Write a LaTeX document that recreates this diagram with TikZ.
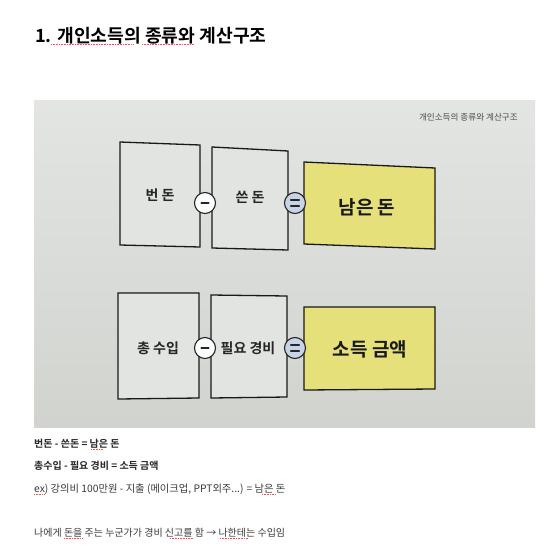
\documentclass[tikz,border=0pt]{standalone}
\usepackage{fontspec}
\setmainfont{Noto Sans CJK KR}
\newfontfamily\kr{Noto Sans CJK KR}
\newfontfamily\krb{Noto Sans CJK KR Bold}
\usetikzlibrary{calc}
\definecolor{photobg}{HTML}{E2E5E2}
\definecolor{photobgd}{HTML}{D0D3CE}
\definecolor{boxfill}{HTML}{E1E4E1}
\definecolor{yel}{HTML}{E5E07A}
\definecolor{eqblue}{HTML}{C6D4E6}
\definecolor{bodygray}{HTML}{3A3A3A}
\tikzset{
  box/.style={draw=black!90, line width=1.3pt, line join=miter},
  boxlbl/.style={font=\krb\fontsize{14}{14}\selectfont, text=black!85, inner sep=0pt},
  reslbl/.style={font=\krb\fontsize{19}{19}\selectfont, text=black!90, inner sep=0pt},
  opcirc/.style={circle, draw=black!85, line width=1.1pt, minimum size=21pt, inner sep=0pt},
  opbar/.style={line width=2.4pt, line cap=round, black!85},
  bodyline/.style={anchor=base west, inner sep=0pt, font=\kr\fontsize{10}{10}\selectfont, text=bodygray},
  spell/.style={red!70, line width=0.6pt, dash pattern=on 0.6pt off 1pt},
}
\begin{document}
\begin{tikzpicture}[x=1pt,y=-1pt]
\useasboundingbox (0,0) rectangle (560,560);
\fill[white] (0,0) rectangle (560,560);
% title
\node[anchor=base west, inner sep=0pt, font=\krb\fontsize{18.2}{18.2}\selectfont] (title) at (35,42) {1. 개인소득의 종류와 계산구조};
\draw[spell] (51,44.5) -- (134,44.5);
\draw[spell] (142,44.5) -- (194,44.5);
% photo
\shade[top color=photobg, bottom color=photobgd] (34,100) rectangle (535,427);
\node[anchor=base east, inner sep=0pt, font=\kr\fontsize{8.6}{8.6}\selectfont, text=black!70] (phototitle) at (518,120) {개인소득의 종류와 계산구조};
% top row boxes (slightly skewed as in the photo)
\draw[box, fill=boxfill] (120,142) -- (200,145) -- (200,247) -- (120,245) -- cycle;
\draw[box, fill=boxfill] (212,147) -- (288,151) -- (288,250) -- (212,248) -- cycle;
\draw[box, fill=yel] (304,162) -- (435,168) -- (435,249) -- (304,244) -- cycle;
\node[boxlbl] (bn) at (160,195) {번 돈};
\node[boxlbl] (sd) at (250,197) {쓴 돈};
\node[reslbl] (nd) at (367,207) {남은 돈};
\node[opcirc, fill=white!95!eqblue] (m1) at (205,203) {};
\draw[opbar] ($(m1)+(-3.5,0)$) -- ($(m1)+(3.5,0)$);
\node[opcirc, fill=eqblue] (e1) at (295,203) {};
\draw[opbar, line width=2.2pt] ($(e1)+(-4,-2.8)$) -- ($(e1)+(4,-2.8)$);
\draw[opbar, line width=2.2pt] ($(e1)+(-4,2.8)$) -- ($(e1)+(4,2.8)$);
% bottom row boxes
\draw[box, fill=boxfill] (118,293) -- (199,293) -- (199,398) -- (118,399) -- cycle;
\draw[box, fill=boxfill] (211,295) -- (287,296) -- (287,397) -- (211,398) -- cycle;
\draw[box, fill=yel] (304,307) -- (435,307) -- (435,389) -- (304,390) -- cycle;
\node[boxlbl] (ts) at (158,348) {총 수입};
\node[boxlbl] (pg) at (248,348) {필요 경비};
\node[reslbl] (sg) at (370,349) {소득 금액};
\node[opcirc, fill=white!95!eqblue] (m2) at (205,348) {};
\draw[opbar] ($(m2)+(-3.5,0)$) -- ($(m2)+(3.5,0)$);
\node[opcirc, fill=eqblue] (e2) at (295,348) {};
\draw[opbar, line width=2.2pt] ($(e2)+(-4,-2.8)$) -- ($(e2)+(4,-2.8)$);
\draw[opbar, line width=2.2pt] ($(e2)+(-4,2.8)$) -- ($(e2)+(4,2.8)$);
% body text
\node[bodyline, font=\krb\fontsize{10}{10}\selectfont, text=black!85] (l1) at (34,447) {번돈 - 쓴돈 = 남은 돈};
\draw[spell] (91,449.5) -- (103,449.5);
\node[bodyline, font=\krb\fontsize{10}{10}\selectfont, text=black!85] (l2) at (34,469) {총수입 - 필요 경비 = 소득 금액};
\node[bodyline, font=\kr\fontsize{10.3}{10.3}\selectfont] (l3) at (34,492) {ex) 강의비 100만원 - 지출 (메이크업, PPT외주...) = 남은 돈};
\draw[spell] (34,494.5) -- (45,494.5);
\draw[spell] (262,494.5) -- (275,494.5);
\node[bodyline] (l4) at (34,536) {나에게 돈을 주는 누군가가 경비 신고를 함 → 나한테는 수입임};
\draw[spell] (64,538.5) -- (82,538.5);
\draw[spell] (170,538.5) -- (193,538.5);
\draw[spell] (220,538.5) -- (248,538.5);
\end{tikzpicture}
\end{document}
